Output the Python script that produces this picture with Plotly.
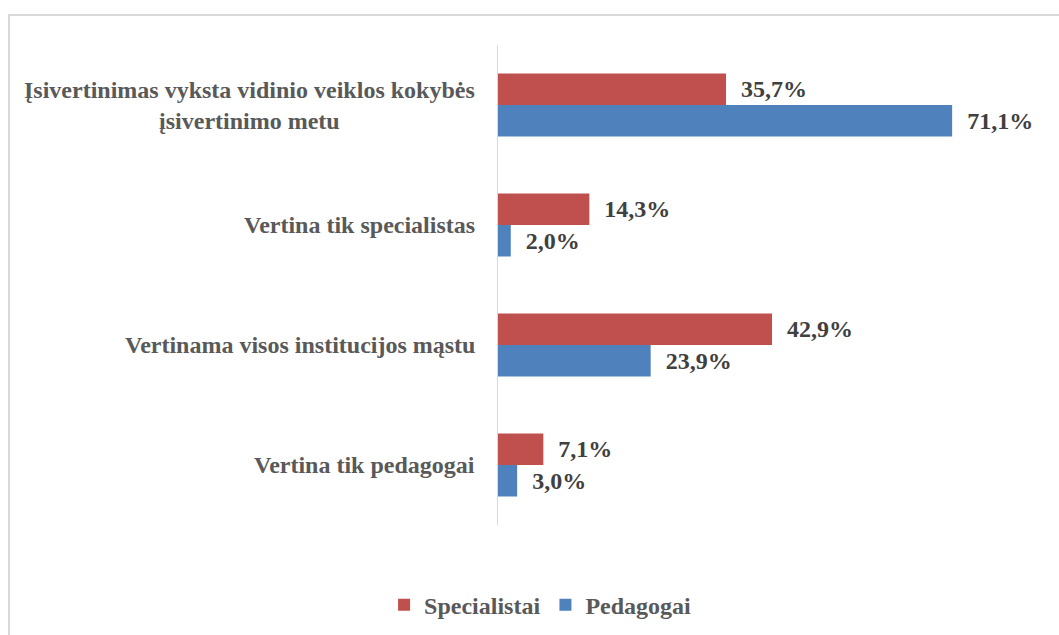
import plotly.graph_objects as go

categories = [
    "Įsivertinimas vyksta vidinio veiklos kokybės<br>įsivertinimo metu",
    "Vertina tik specialistas",
    "Vertinama visos institucijos mąstu",
    "Vertina tik pedagogai",
]
specialistai = [35.7, 14.3, 42.9, 7.1]
pedagogai = [71.1, 2.0, 23.9, 3.0]

FONT = "Liberation Serif, Times New Roman, serif"
RED = "#C0504D"
BLUE = "#4F81BD"
FS = 24


def lbl(v):
    # excel style comma decimals, padded away from the bar end
    return "\u00a0\u00a0" + f"{v:.1f}".replace(".", ",") + "%"


fig = go.Figure()
for name, vals, col in [("Specialistai", specialistai, RED),
                        ("Pedagogai", pedagogai, BLUE)]:
    fig.add_trace(go.Bar(
        name=name,
        y=categories,
        x=vals,
        orientation="h",
        marker=dict(color=col, line=dict(width=0)),
        text=[lbl(v) for v in vals],
        textposition="outside",
        textfont=dict(family=FONT, size=FS, color="#404040", weight="bold"),
        constraintext="none",
        cliponaxis=False,
    ))

# category labels as centred multi-line annotations
for c in categories:
    fig.add_annotation(
        xref="paper", yref="y",
        x=0, y=c,
        text=c,
        showarrow=False,
        xanchor="right",
        align="center",
        xshift=-21,
        font=dict(family=FONT, size=FS, color="#595959", weight="bold"),
    )

# outer chart border
fig.add_shape(
    type="rect", xref="paper", yref="paper",
    x0=(9 - 498) / 511, x1=(1065 - 498) / 511,
    y0=(525 - 645) / 480, y1=1 + (525 - 15 - 480) / 480,
    line=dict(color="#D9D9D9", width=2),
    fillcolor="rgba(0,0,0,0)",
    layer="below",
)

fig.update_layout(
    width=1059,
    height=635,
    barmode="group",
    bargap=0.475,
    bargroupgap=0,
    plot_bgcolor="white",
    paper_bgcolor="white",
    margin=dict(l=498, r=50, t=45, b=110),
    font=dict(family=FONT, size=FS, color="#595959", weight="bold"),
    xaxis=dict(range=[0, 80], visible=False),
    yaxis=dict(
        autorange="reversed",
        showticklabels=False,
        showgrid=False,
        zeroline=False,
        showline=True,
        linecolor="#D9D9D9",
        linewidth=1,
        ticks="",
    ),
    legend=dict(
        orientation="h",
        xref="container", yref="container",
        x=0.51, y=0.047,
        xanchor="center", yanchor="middle",
        font=dict(family=FONT, size=FS, color="#595959", weight="bold"),
        traceorder="normal",
    ),
    showlegend=True,
)

fig.write_html(
    "out.html",
    config={"displayModeBar": False, "displaylogo": False},
    post_script="document.body.style.margin='0';",
)
